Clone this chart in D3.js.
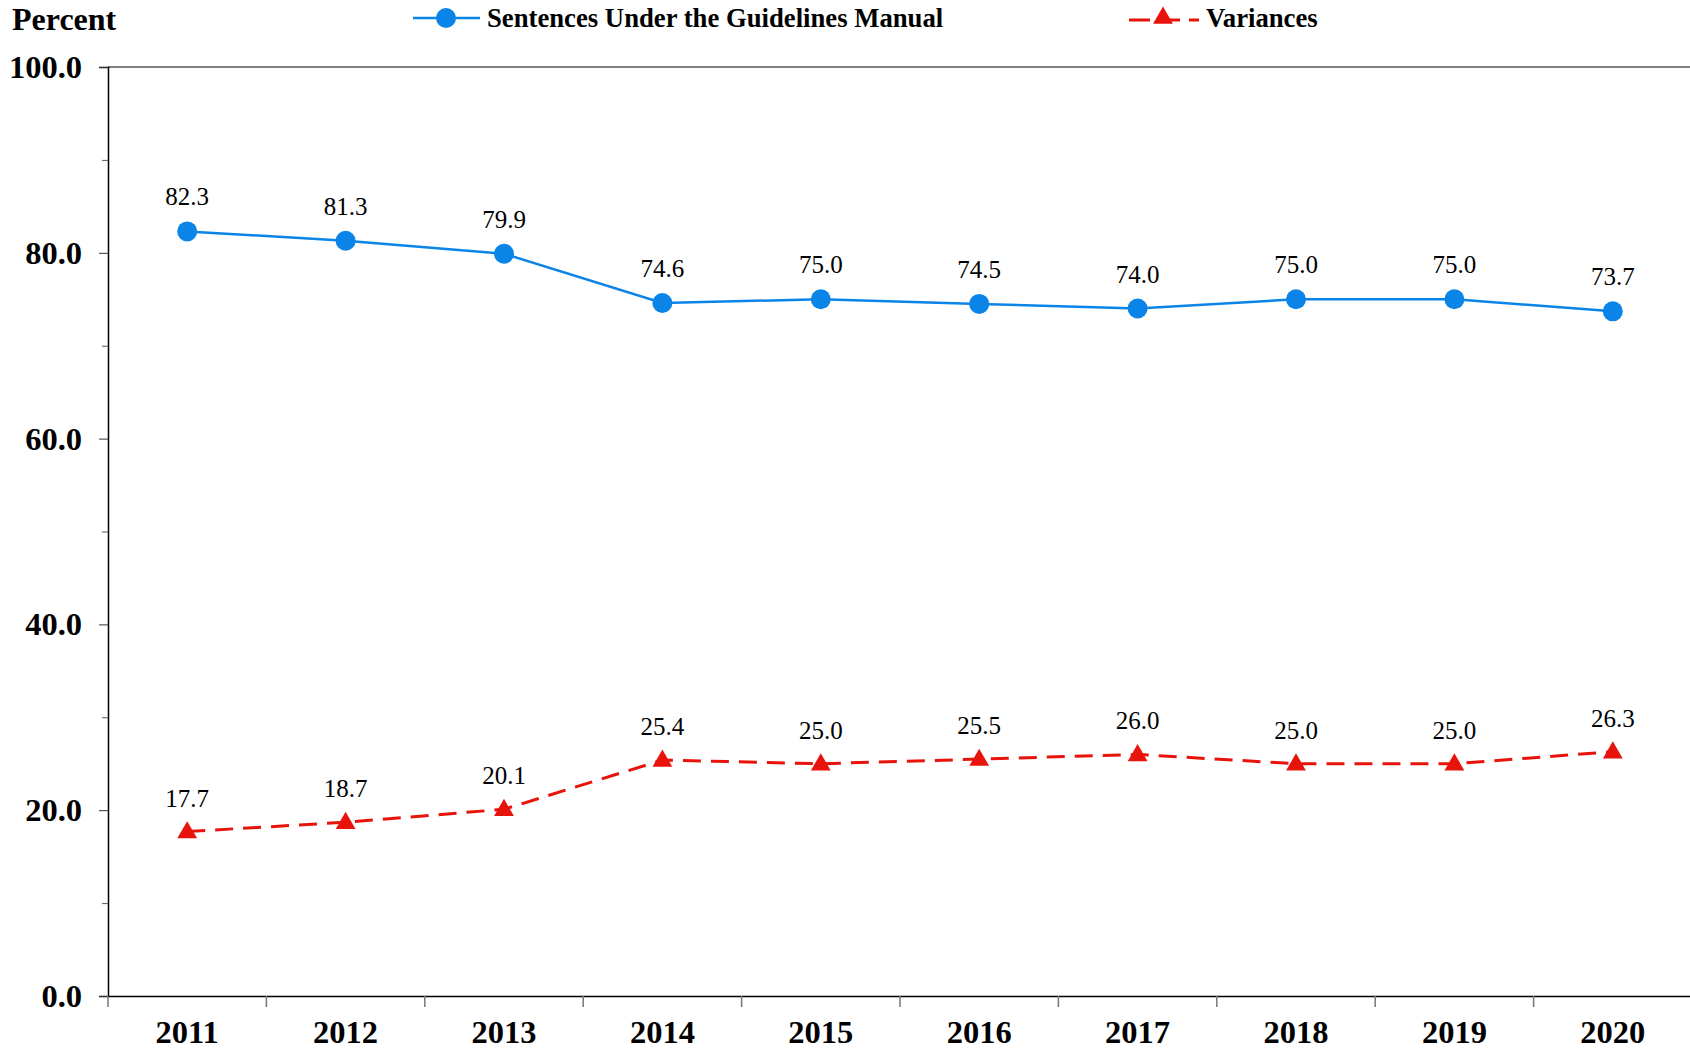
<!DOCTYPE html>
<html>
<head>
<meta charset="utf-8">
<script src="https://cdn.jsdelivr.net/npm/d3@7"></script>
<style>
  body { margin: 0; background: #fff; }
  svg { display: block; font-family: "Liberation Serif", "Times New Roman", serif; }
  .tickText { font-size: 32.5px; font-weight: bold; fill: #000; }
  .titleText { font-size: 32px; font-weight: bold; fill: #000; }
  .valueText { font-size: 25px; fill: #000; }
  .legendText { font-size: 26.7px; font-weight: bold; fill: #000; }
</style>
</head>
<body>
<div id="LineChart"></div>
<script>
var years = ["2011", "2012", "2013", "2014", "2015", "2016", "2017", "2018", "2019", "2020"];
var guidelines = [82.3, 81.3, 79.9, 74.6, 75.0, 74.5, 74.0, 75.0, 75.0, 73.7];
var variances = [17.7, 18.7, 20.1, 25.4, 25.0, 25.5, 26.0, 25.0, 25.0, 26.3];
var majorTicks = [0, 20, 40, 60, 80, 100];
var minorTicks = [10, 30, 50, 70, 90];

var svgWidth = 1690;
var svgHeight = 1051;

var margin = {
    top: 67,
    right: -2,
    bottom: 55,
    left: 108
};

var width = svgWidth - margin.left - margin.right;
var height = svgHeight - margin.top - margin.bottom;

var blue = "#0B84E8";
var red = "#E8140C";

var svg = d3
    .select("#LineChart")
    .append("svg")
    .attr("width", svgWidth)
    .attr("height", svgHeight);

var chartGroup = svg.append("g")
    .attr("transform", `translate(${margin.left}, ${margin.top})`);

var xBandScale = d3.scaleBand()
    .domain(years)
    .range([0, width])
    .padding(0);

var yLinearScale = d3.scaleLinear()
    .domain([0, 100])
    .range([height, 0]);

var xCenter = d => xBandScale(d) + xBandScale.bandwidth() / 2;

// top border
chartGroup.append("line")
    .attr("x1", 0)
    .attr("x2", width)
    .attr("y1", yLinearScale(100))
    .attr("y2", yLinearScale(100))
    .attr("stroke", "#555")
    .attr("stroke-width", 1.5);

// y axis
var leftAxis = d3.axisLeft(yLinearScale)
    .tickValues(majorTicks)
    .tickSize(9)
    .tickPadding(17)
    .tickFormat(d3.format(".1f"));

var yAxis = chartGroup.append("g")
    .call(leftAxis)
    .attr("font-family", null)
    .attr("font-size", null);

yAxis.selectAll("text").attr("class", "tickText");
yAxis.select(".domain").attr("stroke", "#000").attr("stroke-width", 1.5);
yAxis.selectAll(".tick line").attr("stroke", "#333");

var minorAxis = d3.axisLeft(yLinearScale)
    .tickValues(minorTicks)
    .tickSize(6)
    .tickFormat("");

chartGroup.append("g")
    .call(minorAxis)
    .call(g => g.select(".domain").remove())
    .selectAll(".tick line").attr("stroke", "#555");

// x axis
var bottomAxis = d3.axisBottom(xBandScale)
    .tickSize(0)
    .tickPadding(0);

var xAxis = chartGroup.append("g")
    .attr("transform", `translate(0, ${height})`)
    .call(bottomAxis)
    .attr("font-family", null)
    .attr("font-size", null);

xAxis.select(".domain").attr("stroke", "#000").attr("stroke-width", 1.5);
xAxis.selectAll("text")
    .attr("class", "tickText")
    .attr("y", 47)
    .attr("dy", null);

chartGroup.append("g")
    .selectAll("line")
    .data(years)
    .enter()
    .append("line")
        .attr("x1", d => xBandScale(d))
        .attr("x2", d => xBandScale(d))
        .attr("y1", height)
        .attr("y2", height + 11)
        .attr("stroke", "#777")
        .attr("stroke-width", 1.5);

// lines
var line = d3.line()
    .x((d, i) => xCenter(years[i]))
    .y(d => yLinearScale(d));

chartGroup.append("path")
    .datum(guidelines)
    .attr("d", line)
    .attr("fill", "none")
    .attr("stroke", blue)
    .attr("stroke-width", 2.5);

chartGroup.append("path")
    .datum(variances)
    .attr("d", line)
    .attr("fill", "none")
    .attr("stroke", red)
    .attr("stroke-width", 3)
    .attr("stroke-dasharray", "18,10");

// markers
chartGroup.append("g")
    .selectAll("circle")
    .data(guidelines)
    .enter()
    .append("circle")
        .attr("cx", (d, i) => xCenter(years[i]))
        .attr("cy", d => yLinearScale(d))
        .attr("r", 10)
        .attr("fill", blue);

var triangle = d3.symbol().type(d3.symbolTriangle).size(170);

chartGroup.append("g")
    .selectAll("path")
    .data(variances)
    .enter()
    .append("path")
        .attr("d", triangle)
        .attr("transform", (d, i) => `translate(${xCenter(years[i])}, ${yLinearScale(d) + 1})`)
        .attr("fill", red);

// value labels
var format = d3.format(".1f");

chartGroup.append("g")
    .selectAll("text")
    .data(guidelines)
    .enter()
    .append("text")
        .attr("class", "valueText")
        .attr("x", (d, i) => xCenter(years[i]))
        .attr("y", d => yLinearScale(d) - 26)
        .attr("text-anchor", "middle")
        .text(d => format(d));

chartGroup.append("g")
    .selectAll("text")
    .data(variances)
    .enter()
    .append("text")
        .attr("class", "valueText")
        .attr("x", (d, i) => xCenter(years[i]))
        .attr("y", d => yLinearScale(d) - 25)
        .attr("text-anchor", "middle")
        .text(d => format(d));

// y title
svg.append("text")
    .attr("class", "titleText")
    .attr("x", 12)
    .attr("y", 30)
    .text("Percent");

// legend
var legend = svg.append("g");

legend.append("line")
    .attr("x1", 413).attr("x2", 480)
    .attr("y1", 18).attr("y2", 18)
    .attr("stroke", blue)
    .attr("stroke-width", 2.5);

legend.append("circle")
    .attr("cx", 446).attr("cy", 18)
    .attr("r", 10)
    .attr("fill", blue);

legend.append("text")
    .attr("class", "legendText")
    .attr("x", 487)
    .attr("y", 27)
    .text("Sentences Under the Guidelines Manual");

legend.append("line")
    .attr("x1", 1129).attr("x2", 1199)
    .attr("y1", 20).attr("y2", 20)
    .attr("stroke", red)
    .attr("stroke-width", 3)
    .attr("stroke-dasharray", "21,9");

legend.append("path")
    .attr("d", triangle)
    .attr("transform", "translate(1163, 18)")
    .attr("fill", red);

legend.append("text")
    .attr("class", "legendText")
    .attr("x", 1206)
    .attr("y", 27)
    .text("Variances");
</script>
</body>
</html>
